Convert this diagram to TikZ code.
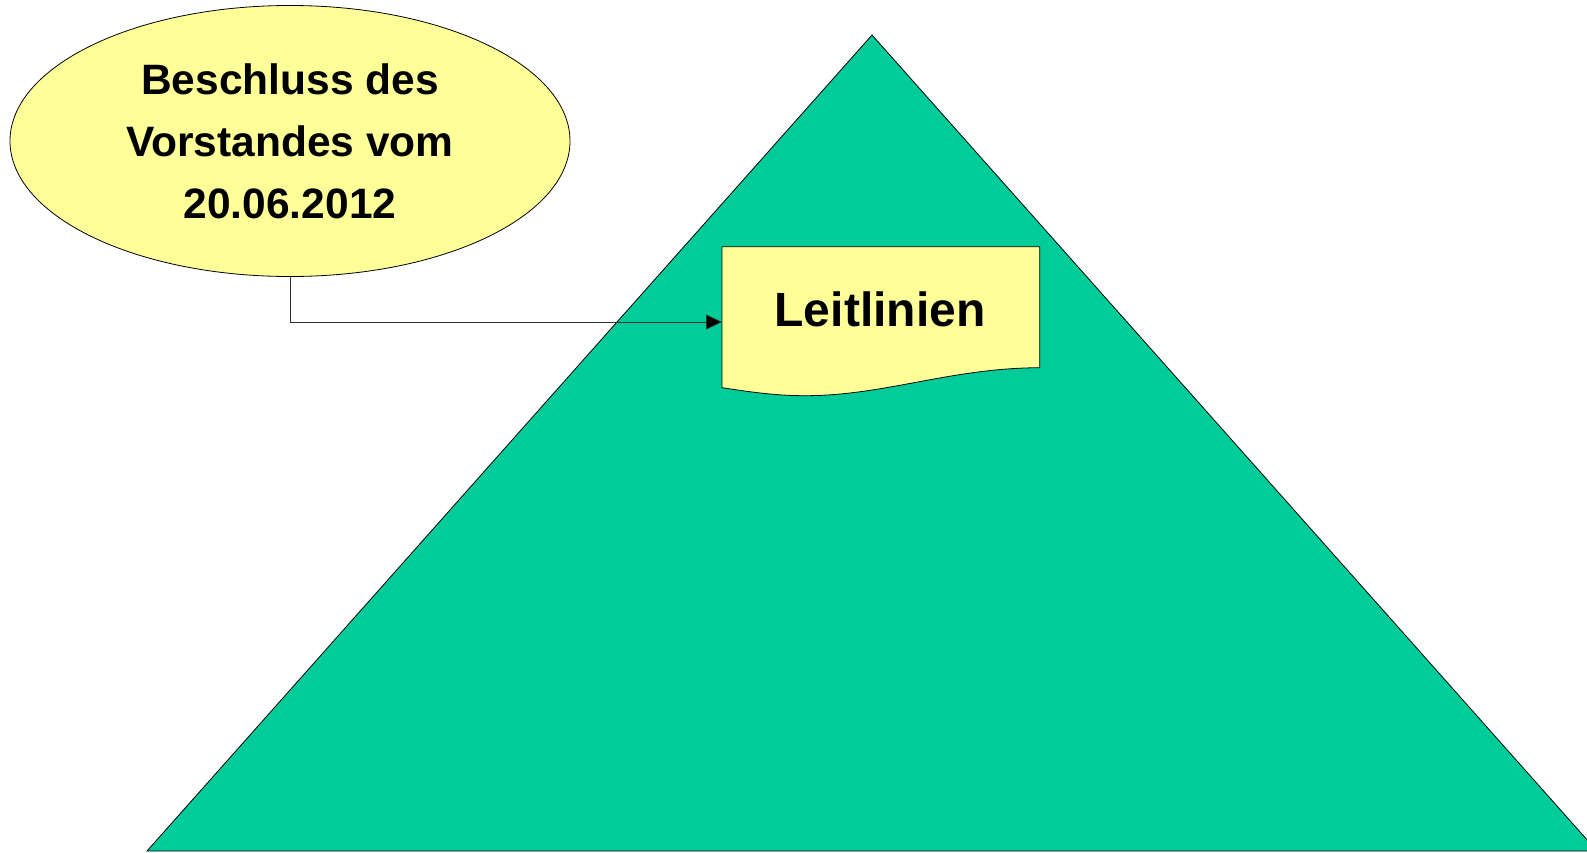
\documentclass[tikz,border=0pt]{standalone}
\usepackage{fontspec}
\setmainfont{Liberation Sans}
\usetikzlibrary{shapes.geometric,arrows.meta}
\definecolor{pyramidgreen}{RGB}{0,204,153}
\definecolor{paleyellow}{RGB}{255,255,153}
\begin{document}
\begin{tikzpicture}[x=1pt,y=-1pt]
        \useasboundingbox (0,0) rectangle (1587,852);
        \draw[fill=pyramidgreen, line width=0.8pt] (147,851) -- (872,35) -- (1597,851) -- cycle;
        \node[ellipse, draw, fill=paleyellow, line width=0.8pt, minimum width=560, minimum height=271, align=center, font=\bfseries\fontsize{42.5}{62}\selectfont] (beschluss) at (290,141) {Beschluss des\\Vorstandes vom\\20.06.2012};
        \draw[fill=paleyellow, line width=0.8pt] (722,246.7) -- (1039.7,246.7) -- (1039.7,367.7)
            .. controls (950,368) and (885,395.7) .. (805,395.7)
            .. controls (772,395.7) and (745,391) .. (722,387.7) -- cycle;
        \node[font=\bfseries\fontsize{48}{58}\selectfont] (leitlinien) at (880,309) {Leitlinien};
        \coordinate (dockin) at (722,322);
        \draw[-{Triangle[length=16pt,width=15pt,fill=black]}, line width=0.8pt, black!80] (beschluss.south) |- (dockin);
    \end{tikzpicture}
\end{document}
